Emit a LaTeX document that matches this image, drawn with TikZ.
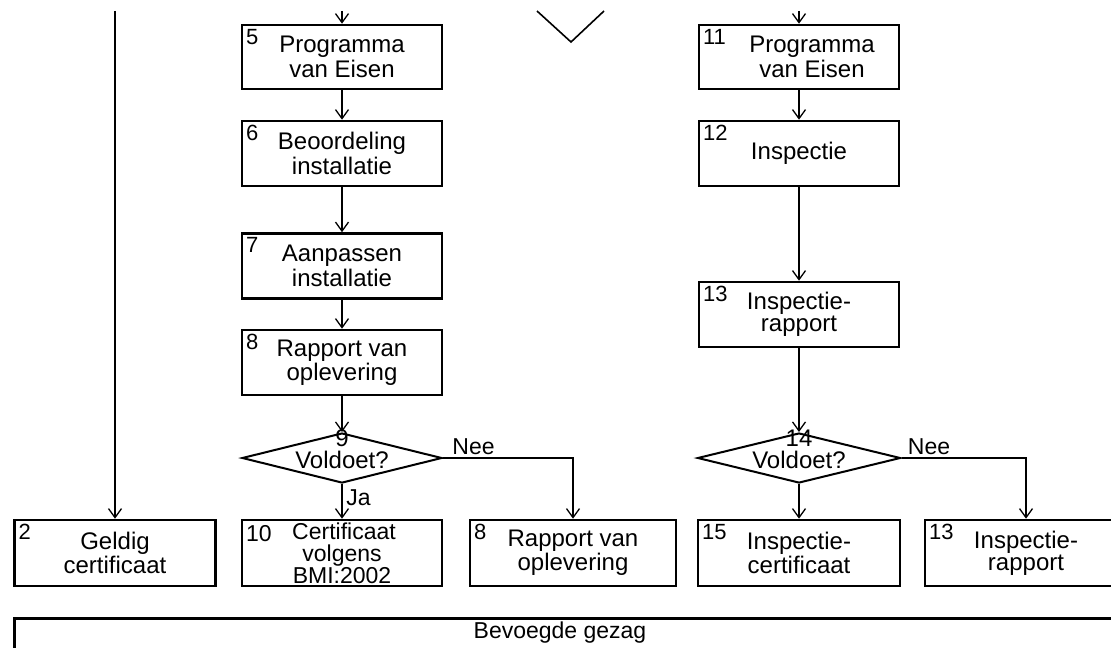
\documentclass[tikz,border=0pt]{standalone}
\usepackage{fontspec}
\setmainfont{Liberation Sans}
\usetikzlibrary{arrows.meta,shapes.geometric}
\begin{document}
\begin{tikzpicture}[x=0.5pt,y=-0.5pt,
  box/.style={draw, line width=1.3pt, minimum width=100pt, minimum height=32.5pt,
    inner sep=0pt, align=center, font=\fontsize{12}{11}\selectfont},
  num/.style={anchor=north west, inner sep=0pt, xshift=2.5pt, yshift=-2.5pt,
    font=\fontsize{11}{11}\selectfont},
  conn/.style={line width=0.65pt, -{Straight Barb[length=4.5pt,width=6.5pt]}},
  dec/.style={diamond, draw, line width=1pt, minimum width=100pt, minimum height=25pt, inner sep=0pt},
  dectext/.style={align=center, inner sep=0pt, yshift=4.25pt, font=\fontsize{12}{11.2}\selectfont},
  lbl/.style={inner sep=0pt, font=\fontsize{11.5}{11.5}\selectfont}
]
\clip (0,0) rectangle (1111,647);

% top entries
\coordinate (t2) at (115,11);
\coordinate (t5) at (342,11);
\coordinate (t11) at (799,11);
\coordinate (va) at (537,11);
\coordinate (vb) at (571,42);
\coordinate (vc) at (604,11);

% left column
\node[box, minimum width=100.5pt, minimum height=33pt] (b2) at (115,553) {Geldig\\certificaat};
\node[num] at (b2.north west) {2};

% middle column
\node[box, minimum height=32pt] (b5) at (342,57) {Programma\\van Eisen};
\node[num] at (b5.north west) {5};
\node[box] (b6) at (342,153.5) {Beoordeling\\installatie};
\node[num] at (b6.north west) {6};
\node[box] (b7) at (342,266) {Aanpassen\\installatie};
\node[num] at (b7.north west) {7};
\node[box] (b8) at (342,362.5) {Rapport van\\oplevering};
\node[num] at (b8.north west) {8};
\node[dec] (d9) at (342,458) {};
\node[dectext] at (d9) {9\\Voldoet?};
\node[box, minimum height=33pt, font=\fontsize{11.5}{11}\selectfont] (b10) at (342,553) {\hspace*{2pt}Certificaat\\volgens\\BMI:2002};
\node[num, font=\fontsize{11.5}{12}\selectfont, yshift=-0.5pt] at (b10.north west) {10};
\node[box, minimum width=103pt, minimum height=33pt] (b8r) at (573,553) {Rapport van\\oplevering};
\node[num] at (b8r.north west) {8};

% right column
\node[box, minimum height=32pt] (b11) at (799,57) {\hspace*{13pt}Programma\\\hspace*{13pt}van Eisen};
\node[num] at (b11.north west) {11};
\node[box] (b12) at (799,153.5) {\raisebox{-1.5pt}{Inspectie}};
\node[num] at (b12.north west) {12};
\node[box] (b13) at (799,314.5) {Inspectie-\\rapport};
\node[num] at (b13.north west) {13};
\node[dec, minimum width=101.5pt] (d14) at (799,458) {};
\node[dectext] at (d14) {14\\Voldoet?};
\node[box, minimum width=101pt, minimum height=33pt] (b15) at (799,553) {Inspectie-\\certificaat};
\node[num] at (b15.north west) {15};
\node[box, minimum width=101pt, minimum height=33pt] (b13r) at (1026,553) {Inspectie-\\rapport};
\node[num] at (b13r.north west) {13};

% authority bar
\node[draw, line width=1.3pt, anchor=north west, minimum width=560pt, minimum height=30pt, inner sep=0pt] (bev) at (13,617) {};
\node[inner sep=0pt, font=\fontsize{11.5}{11.5}\selectfont] (bevt) at (560,633) {Bevoegde gezag};

% connectors
\draw[conn] (t2) -- (b2.north);
\draw[conn] (t5) -- (b5.north);
\draw[conn] (b5) -- (b6);
\draw[conn] (b6) -- (b7);
\draw[conn] (b7) -- (b8);
\draw[conn] (b8) -- (d9.north);
\draw[conn] (d9.south) -- (b10.north);
\draw[conn] (d9.east) -| (b8r.north);
\node[lbl, anchor=north west, xshift=2pt, yshift=-2.5pt] at (d9.south) {Ja};
\node[lbl, anchor=south west, xshift=4.5pt, yshift=1.5pt] at (d9.east) {Nee};

\draw[conn] (t11) -- (b11.north);
\draw[conn] (b11) -- (b12);
\draw[conn] (b12) -- (b13);
\draw[conn] (b13) -- (d14.north);
\draw[conn] (d14.south) -- (b15.north);
\draw[conn] (d14.east) -| (b13r.north);
\node[lbl, anchor=south west, xshift=3pt, yshift=1.5pt] at (d14.east) {Nee};

\draw[line width=0.8pt] (va) -- (vb) -- (vc);
\end{tikzpicture}
\end{document}
